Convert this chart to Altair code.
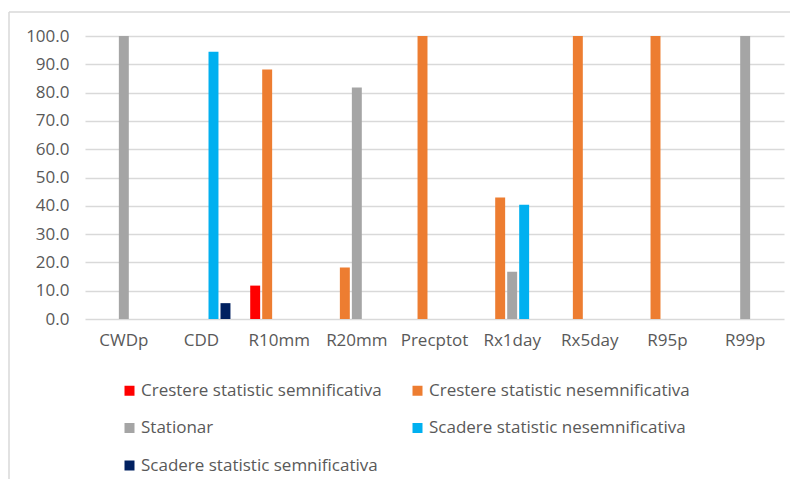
import altair as alt
import pandas as pd

categories = ["CWDp", "CDD", "R10mm", "R20mm", "Precptot", "Rx1day", "Rx5day", "R95p", "R99p"]
series_names = [
    "Crestere statistic semnificativa",
    "Crestere statistic nesemnificativa",
    "Stationar",
    "Scadere statistic nesemnificativa",
    "Scadere statistic semnificativa",
]
crestere_semn = [0, 0, 11.8, 0, 0, 0, 0, 0, 0]
crestere_nesemn = [0, 0, 88.2, 18.2, 100, 42.9, 100, 100, 0]
stationar = [100, 0, 0, 81.8, 0, 16.7, 0, 0, 100]
scadere_nesemn = [0, 94.4, 0, 0, 0, 40.4, 0, 0, 0]
scadere_semn = [0, 5.6, 0, 0, 0, 0, 0, 0, 0]
colors = ["#FF0000", "#ED7D31", "#A5A5A5", "#00B0F0", "#002060"]
y_ticks = [0, 10, 20, 30, 40, 50, 60, 70, 80, 90, 100]

# legend fills column by column: reorder so rows read like the reference
legend_order = [0, 2, 4, 1, 3]
legend_domain = [series_names[i] for i in legend_order]
legend_range = [colors[i] for i in legend_order]

values = [crestere_semn, crestere_nesemn, stationar, scadere_nesemn, scadere_semn]
rows = []
for name, vals in zip(series_names, values):
    for cat, v in zip(categories, vals):
        if v > 0:
            rows.append({"cat": cat, "series": name, "value": v})
df = pd.DataFrame(rows)

FONT = "Open Sans"
TXT = "#595959"
FS = 17

bars = alt.Chart(df).mark_bar().encode(
    x=alt.X("cat:N", sort=categories,
            scale=alt.Scale(domain=categories, paddingInner=0.228, paddingOuter=0.114),
            axis=alt.Axis(title=None, labelAngle=0, labelFont=FONT, labelFontSize=FS,
                          labelColor=TXT, ticks=False, domain=False, labelPadding=13,
                          grid=False)),
    xOffset=alt.XOffset("series:N",
                        scale=alt.Scale(domain=series_names, paddingInner=0.17, paddingOuter=0.085)),
    y=alt.Y("value:Q",
            scale=alt.Scale(domain=[0, 100], nice=False),
            axis=alt.Axis(title=None, values=y_ticks, format=".1f", labelFont=FONT,
                          labelFontSize=FS, labelColor=TXT, ticks=False, domain=False,
                          gridColor="#D9D9D9", gridWidth=1.3, labelPadding=16)),
    color=alt.Color("series:N",
                    scale=alt.Scale(domain=legend_domain, range=legend_range),
                    legend=alt.Legend(title=None, orient="none", legendX=36, legendY=346,
                                      columns=2, symbolType="square", symbolSize=100,
                                      symbolStrokeWidth=0, labelFont=FONT, labelFontSize=FS,
                                      labelColor=TXT, labelLimit=500, rowPadding=19.5,
                                      columnPadding=27, labelOffset=3)),
)

border_df = pd.DataFrame({"k": [0]})
top_border = alt.Chart(border_df).mark_rule(color="#D9D9D9", strokeWidth=1.5).encode(
    x=alt.value(-76), x2=alt.value(720), y=alt.value(-24))
left_border = alt.Chart(border_df).mark_rule(color="#D9D9D9", strokeWidth=1.5).encode(
    x=alt.value(-76), y=alt.value(-24), y2=alt.value(460))

chart = alt.layer(top_border, left_border, bars).properties(
    width=699, height=283,
    padding={"left": 77, "top": 28, "right": 6, "bottom": 160},
    autosize=alt.AutoSizeParams(type="none"),
).configure_view(stroke=None)

chart.save("out.html", embed_options={"renderer": "svg", "actions": False})
